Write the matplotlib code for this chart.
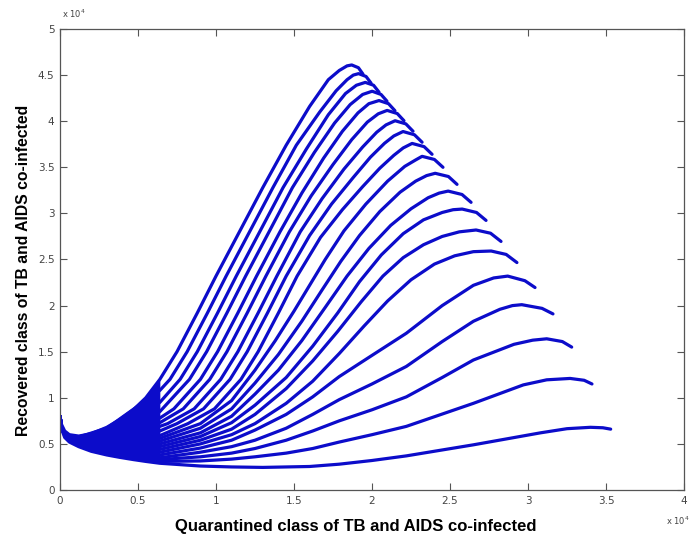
import numpy as np
import matplotlib
matplotlib.use("Agg")
import matplotlib.pyplot as plt

# values in units of 1e4
# dense start region: shared x, lower edge (curve 1) and upper edge (curve 20)
fan_x = [0, 0.01, 0.03, 0.06, 0.12, 0.2, 0.3, 0.38, 0.47, 0.55, 0.64]
fan_low = [0.80, 0.66, 0.57, 0.52, 0.47, 0.42, 0.38, 0.355, 0.33, 0.31, 0.29]
fan_high = [0.80, 0.71, 0.64, 0.60, 0.585, 0.61, 0.68, 0.76, 0.87, 1.00, 1.20]

# curves 2..19, bottom to top
mid_x = [
    [0, 0.01, 0.03, 0.12, 0.3, 0.64, 0.9, 1.1, 1.25, 1.45, 1.62, 1.79, 2.0, 2.22, 2.65, 2.97, 3.12, 3.27, 3.36, 3.41],
    [0, 0.01, 0.03, 0.12, 0.3, 0.64, 0.9, 1.1, 1.25, 1.45, 1.62, 1.79, 2.0, 2.22, 2.45, 2.65, 2.91, 3.03, 3.12, 3.22, 3.28],
    [0, 0.01, 0.03, 0.12, 0.3, 0.64, 0.9, 1.1, 1.25, 1.45, 1.62, 1.79, 2.0, 2.22, 2.45, 2.65, 2.82, 2.90, 2.96, 3.09, 3.16],
    [0, 0.01, 0.03, 0.12, 0.3, 0.64, 0.9, 1.1, 1.25, 1.45, 1.62, 1.79, 2.0, 2.22, 2.45, 2.65, 2.78, 2.87, 2.98, 3.045],
    [0, 0.01, 0.03, 0.12, 0.3, 0.64, 0.9, 1.1, 1.25, 1.45, 1.62, 1.79, 1.95, 2.10, 2.25, 2.40, 2.53, 2.65, 2.764, 2.86, 2.929],
    [0, 0.01, 0.03, 0.12, 0.3, 0.64, 0.9, 1.1, 1.25, 1.45, 1.62, 1.78, 1.93, 2.07, 2.20, 2.33, 2.45, 2.56, 2.667, 2.76, 2.827],
    [0, 0.01, 0.03, 0.12, 0.3, 0.64, 0.9, 1.1, 1.25, 1.45, 1.62, 1.78, 1.92, 2.06, 2.20, 2.33, 2.45, 2.52, 2.578, 2.67, 2.731],
    [0, 0.01, 0.03, 0.12, 0.3, 0.64, 0.9, 1.1, 1.25, 1.4, 1.55, 1.70, 1.84, 1.98, 2.12, 2.25, 2.36, 2.43, 2.488, 2.577, 2.635],
    [0, 0.01, 0.03, 0.12, 0.3, 0.64, 0.9, 1.1, 1.25, 1.4, 1.55, 1.68, 1.80, 1.92, 2.05, 2.18, 2.28, 2.35, 2.405, 2.49, 2.545],
    [0, 0.01, 0.03, 0.12, 0.3, 0.64, 0.9, 1.1, 1.25, 1.38, 1.50, 1.60, 1.70, 1.82, 1.96, 2.10, 2.21, 2.28, 2.321, 2.40, 2.455],
    [0, 0.01, 0.03, 0.12, 0.3, 0.64, 0.82, 0.99, 1.16, 1.27, 1.40, 1.52, 1.67, 1.81, 1.94, 2.05, 2.14, 2.20, 2.257, 2.334, 2.385],
    [0, 0.01, 0.03, 0.12, 0.3, 0.64, 0.75, 0.92, 1.09, 1.20, 1.33, 1.45, 1.60, 1.74, 1.88, 1.99, 2.08, 2.14, 2.199, 2.272, 2.321],
    [0, 0.01, 0.03, 0.12, 0.3, 0.64, 0.69, 0.86, 1.03, 1.14, 1.27, 1.39, 1.54, 1.68, 1.82, 1.94, 2.03, 2.09, 2.148, 2.217, 2.263],
    [0, 0.01, 0.03, 0.12, 0.3, 0.64, 0.79, 0.96, 1.07, 1.20, 1.32, 1.47, 1.61, 1.75, 1.87, 1.97, 2.04, 2.097, 2.162, 2.205],
    [0, 0.01, 0.03, 0.12, 0.3, 0.64, 0.73, 0.90, 1.01, 1.14, 1.26, 1.41, 1.55, 1.69, 1.81, 1.91, 1.98, 2.045, 2.106, 2.147],
    [0, 0.01, 0.03, 0.12, 0.3, 0.64, 0.83, 0.94, 1.07, 1.19, 1.34, 1.49, 1.63, 1.76, 1.86, 1.94, 2.001, 2.058, 2.096],
    [0, 0.01, 0.03, 0.12, 0.3, 0.64, 0.77, 0.88, 1.01, 1.13, 1.28, 1.43, 1.58, 1.72, 1.83, 1.90, 1.957, 2.01, 2.045],
    [0, 0.01, 0.03, 0.12, 0.3, 0.64, 0.705, 0.815, 0.945, 1.065, 1.215, 1.365, 1.515, 1.665, 1.77, 1.84, 1.88, 1.914, 1.962, 1.994],
]
mid_y = [
    [0.80, 0.68, 0.60, 0.48, 0.40, 0.31, 0.315, 0.335, 0.36, 0.40, 0.45, 0.52, 0.60, 0.69, 0.94, 1.14, 1.195, 1.21, 1.19, 1.15],
    [0.80, 0.68, 0.60, 0.49, 0.41, 0.33, 0.36, 0.40, 0.45, 0.54, 0.64, 0.75, 0.87, 1.01, 1.22, 1.41, 1.58, 1.625, 1.64, 1.61, 1.55],
    [0.80, 0.68, 0.60, 0.49, 0.43, 0.35, 0.41, 0.47, 0.54, 0.67, 0.82, 0.98, 1.15, 1.34, 1.61, 1.83, 1.96, 2.00, 2.01, 1.97, 1.91],
    [0.80, 0.68, 0.60, 0.50, 0.44, 0.38, 0.455, 0.54, 0.65, 0.82, 1.01, 1.23, 1.46, 1.70, 2.00, 2.22, 2.30, 2.32, 2.27, 2.196],
    [0.80, 0.68, 0.60, 0.50, 0.46, 0.41, 0.50, 0.60, 0.72, 0.94, 1.18, 1.48, 1.78, 2.05, 2.28, 2.45, 2.54, 2.585, 2.592, 2.555, 2.467],
    [0.80, 0.68, 0.60, 0.51, 0.48, 0.44, 0.54, 0.66, 0.82, 1.10, 1.40, 1.72, 2.04, 2.32, 2.52, 2.66, 2.75, 2.80, 2.82, 2.785, 2.696],
    [0.80, 0.68, 0.60, 0.52, 0.50, 0.47, 0.58, 0.73, 0.92, 1.22, 1.56, 1.92, 2.26, 2.55, 2.78, 2.93, 3.01, 3.04, 3.047, 3.01, 2.924],
    [0.80, 0.68, 0.60, 0.52, 0.52, 0.50, 0.62, 0.80, 1.04, 1.30, 1.62, 1.98, 2.32, 2.62, 2.87, 3.05, 3.17, 3.22, 3.242, 3.205, 3.12],
    [0.80, 0.68, 0.60, 0.53, 0.53, 0.53, 0.67, 0.88, 1.16, 1.47, 1.83, 2.17, 2.48, 2.76, 3.02, 3.23, 3.35, 3.41, 3.435, 3.40, 3.315],
    [0.80, 0.68, 0.60, 0.53, 0.55, 0.56, 0.72, 0.97, 1.30, 1.62, 1.94, 2.22, 2.50, 2.81, 3.10, 3.35, 3.51, 3.58, 3.619, 3.585, 3.50],
    [0.80, 0.68, 0.60, 0.54, 0.57, 0.59, 0.72, 0.88, 1.20, 1.50, 1.92, 2.32, 2.74, 3.04, 3.29, 3.49, 3.63, 3.71, 3.759, 3.724, 3.641],
    [0.80, 0.68, 0.60, 0.55, 0.58, 0.64, 0.72, 0.88, 1.20, 1.50, 1.92, 2.32, 2.76, 3.10, 3.39, 3.61, 3.76, 3.84, 3.888, 3.853, 3.772],
    [0.80, 0.68, 0.60, 0.55, 0.60, 0.69, 0.72, 0.88, 1.20, 1.50, 1.92, 2.32, 2.80, 3.16, 3.48, 3.72, 3.88, 3.96, 4.005, 3.971, 3.891],
    [0.80, 0.68, 0.60, 0.56, 0.61, 0.73, 0.88, 1.20, 1.50, 1.92, 2.32, 2.80, 3.19, 3.53, 3.80, 3.99, 4.08, 4.117, 4.083, 4.005],
    [0.80, 0.68, 0.60, 0.56, 0.63, 0.78, 0.88, 1.20, 1.50, 1.92, 2.32, 2.80, 3.22, 3.60, 3.89, 4.09, 4.19, 4.224, 4.19, 4.114],
    [0.80, 0.68, 0.60, 0.57, 0.64, 0.85, 1.20, 1.50, 1.92, 2.32, 2.80, 3.28, 3.66, 3.98, 4.18, 4.29, 4.325, 4.29, 4.217],
    [0.80, 0.68, 0.60, 0.57, 0.66, 0.95, 1.20, 1.50, 1.92, 2.32, 2.80, 3.28, 3.70, 4.07, 4.30, 4.39, 4.421, 4.39, 4.315],
    [0.80, 0.68, 0.60, 0.575, 0.67, 1.08, 1.20, 1.50, 1.92, 2.32, 2.80, 3.28, 3.74, 4.10, 4.33, 4.45, 4.50, 4.516, 4.485, 4.413],
]

# curve 1 (lowest) and curve 20 (highest) after the dense region
low_x = [0.9, 1.1, 1.3, 1.6, 1.79, 2.0, 2.22, 2.65, 3.08, 3.25, 3.40, 3.48, 3.53]
low_y = [0.26, 0.25, 0.245, 0.255, 0.28, 0.32, 0.37, 0.49, 0.62, 0.665, 0.68, 0.675, 0.66]
high_x = [0.75, 0.88, 1.0, 1.15, 1.3, 1.45, 1.6, 1.72, 1.79, 1.84, 1.87, 1.913, 1.942]
high_y = [1.50, 1.92, 2.32, 2.80, 3.28, 3.74, 4.16, 4.45, 4.55, 4.60, 4.61, 4.58, 4.511]

x_ticks = [0, 0.5, 1, 1.5, 2, 2.5, 3, 3.5, 4]
x_tick_labels = ["0", "0.5", "1", "1.5", "2", "2.5", "3", "3.5", "4"]
y_ticks = [0, 0.5, 1, 1.5, 2, 2.5, 3, 3.5, 4, 4.5, 5]
y_tick_labels = ["0", "0.5", "1", "1.5", "2", "2.5", "3", "3.5", "4", "4.5", "5"]

curve_x = [fan_x + low_x] + mid_x + [fan_x + high_x]
curve_y = [fan_low + low_y] + mid_y + [fan_high + high_y]

blue = "#0c0cca"

fig = plt.figure(figsize=(6.96, 5.39), dpi=100)
ax = fig.add_axes([60 / 696, 1 - 490 / 539, 624 / 696, 461 / 539])

# the start region is so dense that it shows as solid colour
ax.fill_between(fan_x, fan_low, fan_high, color=blue, lw=0)
for xs, ys in zip(curve_x, curve_y):
    ax.plot(xs, ys, color=blue, lw=2.3, solid_capstyle="round", solid_joinstyle="round")

ax.set_xlim(0, 4)
ax.set_ylim(0, 5)
ax.set_xticks(x_ticks)
ax.set_xticklabels(x_tick_labels)
ax.set_yticks(y_ticks)
ax.set_yticklabels(y_tick_labels)
ax.tick_params(direction="in", top=True, right=True, length=5, width=0.8,
               labelsize=7.5, labelcolor="#444444", color="#555555", pad=4)
for s in ax.spines.values():
    s.set_color("#555555")
    s.set_linewidth(0.9)

fig.text(62 / 696, 1 - 14 / 539, r"x 10$^4$", fontsize=6, color="#444444", va="center")
fig.text(666 / 696, 1 - 521 / 539, r"x 10$^4$", fontsize=6, color="#444444", va="center")

fig.text(356 / 696, 1 - 527 / 539, "Quarantined class of TB and AIDS co-infected",
         fontsize=12, fontweight="bold", family="Liberation Sans", ha="center", va="center")
fig.text(24 / 696, 1 - 270 / 539, "Recovered class of TB and AIDS co-infected",
         fontsize=11.3, fontweight="bold", family="Liberation Sans", rotation=90,
         ha="center", va="center")

fig.savefig("out.png", dpi=100)
